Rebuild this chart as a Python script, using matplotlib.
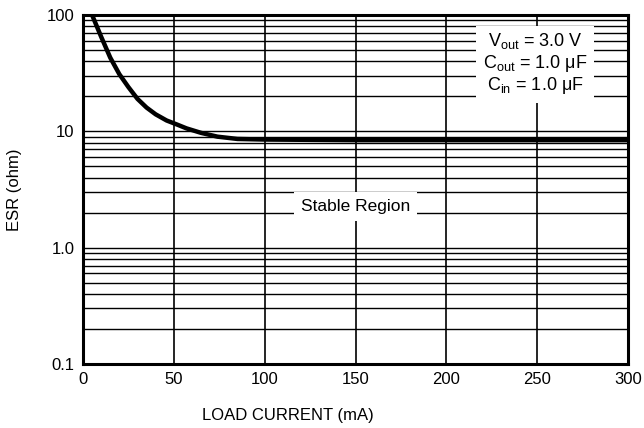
import matplotlib.pyplot as plt
import numpy as np

plt.rcParams['font.family'] = ['Liberation Sans', 'DejaVu Sans']
plt.rcParams['mathtext.fontset'] = 'custom'
plt.rcParams['mathtext.rm'] = 'Liberation Sans'
plt.rcParams['mathtext.it'] = 'Liberation Sans'

# curve
load_ma = [5, 10, 15, 20, 25, 30, 35, 40, 46, 52, 57, 65, 74, 85, 100, 150, 200, 250, 300]
esr_ohm = [100, 65, 43, 31, 24, 19, 16, 14, 12.4, 11.4, 10.6, 9.7, 9.0, 8.6, 8.5, 8.4, 8.4, 8.4, 8.4]

x_ticks = [0, 50, 100, 150, 200, 250, 300]
y_ticks = [0.1, 1.0, 10, 100]
y_tick_labels = ['0.1', '1.0', '10', '100']

conditions = [r'V$_{\mathregular{out}}$ = 3.0 V',
              r'C$_{\mathregular{out}}$ = 1.0 μF',
              r'C$_{\mathregular{in}}$ = 1.0 μF']

fig = plt.figure(figsize=(6.44, 4.28), dpi=100)
ax = fig.add_axes([83 / 644, 1 - 364 / 428, 545 / 644, 349 / 428])

ax.set_yscale('log')
ax.set_xlim(0, 300)
ax.set_ylim(0.1, 100)

# grid: every 1..9 of each decade, verticals every 50 mA
minor = [m * 10.0 ** d for d in range(-1, 2) for m in range(1, 10)]
for yv in minor:
    ax.axhline(yv, color='black', lw=1.0, zorder=1)
for xv in x_ticks:
    ax.axvline(xv, color='black', lw=1.2, zorder=1)

ax.plot(load_ma, esr_ohm, color='black', lw=3.2, zorder=3, solid_capstyle='round')

ax.set_xticks(x_ticks)
ax.set_xticklabels([str(v) for v in x_ticks])
ax.set_yticks(y_ticks)
ax.set_yticklabels(y_tick_labels)
ax.yaxis.set_minor_locator(plt.NullLocator())
ax.tick_params(length=0, labelsize=12, pad=6)

for s in ax.spines.values():
    s.set_linewidth(2.2)
    s.set_zorder(5)

ax.set_xlabel('LOAD CURRENT (mA)', fontsize=12)
ax.xaxis.set_label_coords((288 - 83) / 545, -0.125)
ax.set_ylabel('ESR (ohm)', fontsize=12, labelpad=18)

box = dict(facecolor='white', edgecolor='none', pad=5)
ax.text(150, 2.25, 'Stable Region', fontsize=12.5, ha='center', va='center',
        bbox=box, zorder=4)
ax.text(249, 38, '\n'.join(conditions), fontsize=13, ha='center', va='center',
        linespacing=1.1, bbox=box, zorder=4)

fig.savefig('out.png', dpi=100)
